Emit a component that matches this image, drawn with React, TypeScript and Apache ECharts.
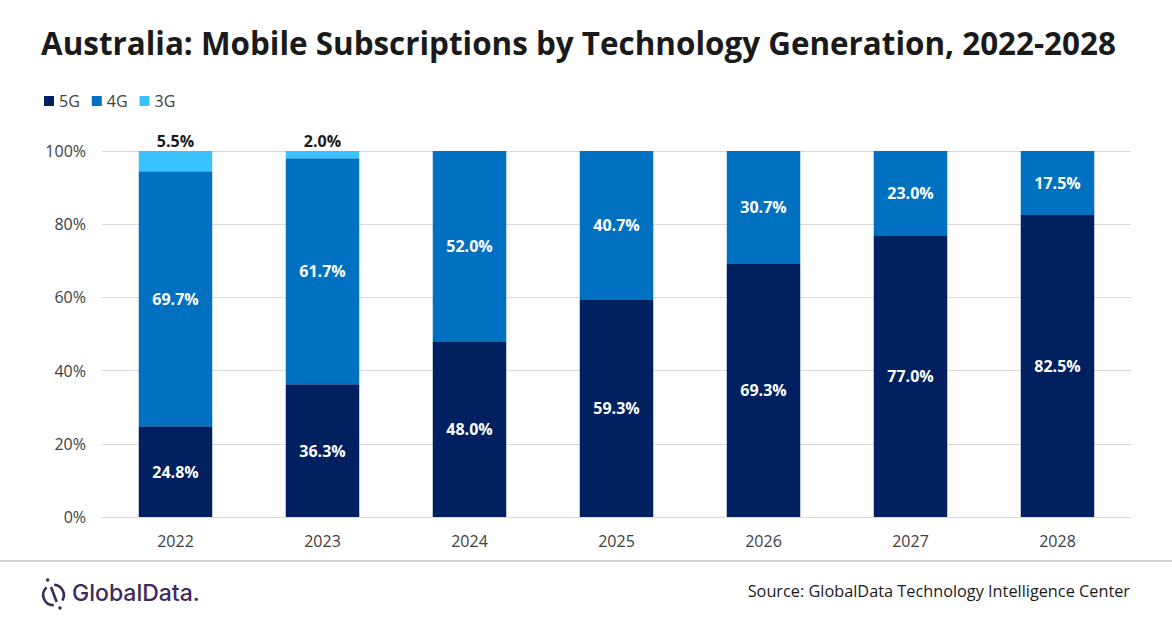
import React, { useEffect, useRef } from "react";
import * as echarts from "echarts";

const years = ["2022", "2023", "2024", "2025", "2026", "2027", "2028"];
const g5 = [24.8, 36.3, 48.0, 59.3, 69.3, 77.0, 82.5];
const g4 = [69.7, 61.7, 52.0, 40.7, 30.7, 23.0, 17.5];
const g3 = [5.5, 2.0, 0, 0, 0, 0, 0];
const yTicks = [0, 20, 40, 60, 80, 100];

const FONT = "'Open Sans', sans-serif";
const LOGO = "#3b2a5a";
const deg = (d: number) => (d * Math.PI) / 180;

export default function App() {
  const ref = useRef<HTMLDivElement>(null);
  useEffect(() => {
    document.body.style.margin = "0";
    const chart = echarts.init(ref.current!, null, { renderer: "svg" });
    const fmt = (p: any) => (p.value ? Number(p.value).toFixed(1) + "%" : "");
    const inLabel = {
      show: true,
      position: "inside",
      color: "#ffffff",
      fontWeight: "bold",
      fontSize: 16,
      fontFamily: FONT,
      formatter: fmt,
    };
    chart.setOption({
      animation: false,
      backgroundColor: "#ffffff",
      textStyle: { fontFamily: FONT },
      title: {
        text: "Australia: Mobile Subscriptions by Technology Generation, 2022-2028",
        left: 36,
        top: 22,
        textStyle: { fontFamily: FONT, fontWeight: "bold", fontSize: 31.4, color: "#1a1a1a" },
      },
      legend: {
        left: 39,
        top: 88,
        icon: "rect",
        itemWidth: 10,
        itemHeight: 10,
        itemGap: 12,
        textStyle: { fontFamily: FONT, fontSize: 16, color: "#404040" },
        data: ["5G", "4G", "3G"],
      },
      grid: { left: 102, right: 41, top: 151, bottom: 111 },
      xAxis: {
        type: "category",
        data: years,
        axisLine: { lineStyle: { color: "#d9d9d9" } },
        axisTick: { show: false },
        axisLabel: { fontFamily: FONT, fontSize: 16, color: "#404040", margin: 16 },
      },
      yAxis: {
        type: "value",
        min: 0,
        max: 100,
        interval: 20,
        axisLabel: {
          fontFamily: FONT,
          fontSize: 16,
          color: "#404040",
          margin: 16,
          formatter: (v: number) => (yTicks.includes(v) ? v + "%" : ""),
        },
        splitLine: { lineStyle: { color: "#d9d9d9" } },
      },
      series: [
        { name: "5G", type: "bar", stack: "t", data: g5, barWidth: "50%", itemStyle: { color: "#002060" }, label: inLabel },
        { name: "4G", type: "bar", stack: "t", data: g4, barWidth: "50%", itemStyle: { color: "#0070c0" }, label: inLabel },
        {
          name: "3G",
          type: "bar",
          stack: "t",
          data: g3,
          barWidth: "50%",
          itemStyle: { color: "#3ac2fe" },
          label: {
            show: true,
            position: "top",
            distance: 2,
            color: "#1a1a1a",
            fontWeight: "bold",
            fontSize: 16,
            fontFamily: FONT,
            formatter: fmt,
          },
        },
      ],
      graphic: [
        { type: "line", shape: { x1: 0, y1: 561, x2: 1172, y2: 561 }, style: { stroke: "#a6a6a6", lineWidth: 1 } },
        {
          type: "text",
          right: 42,
          top: 583,
          style: { text: "Source: GlobalData Technology Intelligence Center", fontFamily: FONT, fontSize: 16.3, fill: "#1a1a1a" },
        },
        { type: "arc", shape: { cx: 53.5, cy: 595, r: 10.3, startAngle: deg(88), endAngle: deg(228) }, style: { stroke: LOGO, lineWidth: 2.6, fill: null } },
        { type: "arc", shape: { cx: 53.5, cy: 595, r: 10.3, startAngle: deg(-86), endAngle: deg(32) }, style: { stroke: LOGO, lineWidth: 2.6, fill: null } },
        { type: "line", shape: { x1: 51, y1: 587, x2: 56.7, y2: 602 }, style: { stroke: LOGO, lineWidth: 2.6 } },
        { type: "circle", shape: { cx: 47.7, cy: 580, r: 1.7 }, style: { fill: LOGO } },
        { type: "circle", shape: { cx: 60, cy: 608, r: 1.7 }, style: { fill: LOGO } },
        {
          type: "text",
          left: 72,
          top: 581,
          style: { text: "GlobalData.", fontFamily: "Inter, sans-serif", fontWeight: 500, fontSize: 23, fill: LOGO },
        },
      ],
    });
    return () => chart.dispose();
  }, []);
  return <div ref={ref} style={{ width: 1172, height: 628, position: "fixed", left: 0, top: 0 }} />;
}
